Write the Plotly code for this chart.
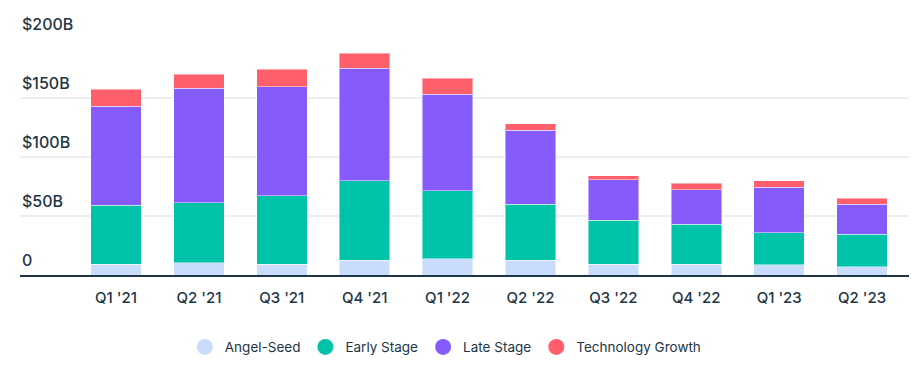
import plotly.graph_objects as go

quarters = ["Q1 '21", "Q2 '21", "Q3 '21", "Q4 '21", "Q1 '22", "Q2 '22", "Q3 '22", "Q4 '22", "Q1 '23", "Q2 '23"]
angel_seed = [9.3, 10.5, 9.3, 12.7, 13.9, 12.7, 9.3, 9.3, 8.5, 7.1]
early_stage = [49.8, 50.6, 58.0, 67.1, 57.4, 47.3, 37.1, 33.7, 27.1, 27.4]
late_stage = [83.8, 97.3, 92.2, 95.6, 82.0, 62.8, 34.5, 29.4, 38.8, 25.5]
tech_growth = [14.7, 11.9, 15.0, 12.7, 13.6, 5.3, 3.4, 5.4, 5.4, 5.1]

y_tick_vals = [0, 50, 100, 150, 200]
y_tick_text = ["0", "$50B", "$100B", "$150B", "$200B"]

series = [
    ("Angel-Seed", angel_seed, "#cadcfc"),
    ("Early Stage", early_stage, "#00c2a8"),
    ("Late Stage", late_stage, "#855bfb"),
    ("Technology Growth", tech_growth, "#ff5f6b"),
]

TEXT = "#1d3546"
FONT = "Inter"

fig = go.Figure()
for name, vals, color in series:
    fig.add_trace(go.Bar(
        x=quarters, y=vals, name=name, showlegend=False,
        marker=dict(color=color, line=dict(color="rgba(255,255,255,0.45)", width=1)),
    ))
for name, vals, color in series:
    fig.add_trace(go.Scatter(
        x=[None], y=[None], mode="markers", name=name,
        marker=dict(color=color, size=18, symbol="circle"),
    ))

for v, t in zip(y_tick_vals, y_tick_text):
    fig.add_annotation(
        x=0, xref="paper", xanchor="left", y=v, yref="y", yanchor="bottom",
        yshift=3, text=t, showarrow=False,
        font=dict(family=FONT, size=16, color=TEXT, weight=500),
    )

fig.update_layout(
    width=923, height=367,
    margin=dict(l=20, r=14, t=39, b=92),
    paper_bgcolor="white", plot_bgcolor="white",
    barmode="stack", bargap=0.39,
    font=dict(family=FONT, size=15, color=TEXT),
    showlegend=True,
    legend=dict(
        orientation="h", xref="container", yref="container",
        x=0.483, xanchor="center", y=0.054, yanchor="middle",
        font=dict(family=FONT, size=13.5, color=TEXT),
        traceorder="normal", itemwidth=30,
    ),
    xaxis=dict(
        type="category", range=[-1.158, 9.566],
        showgrid=False, showline=True, linecolor=TEXT, linewidth=2,
        ticks="", ticklabelstandoff=8,
        tickfont=dict(family=FONT, size=15, color=TEXT, weight=500),
        zeroline=False,
    ),
    yaxis=dict(
        range=[0, 200], tickvals=y_tick_vals, showticklabels=False,
        showgrid=True, gridcolor="#eceef1", gridwidth=1.5,
        zeroline=False, showline=False,
    ),
)

fig.write_html("out.html", config={"displayModeBar": False},
               post_script="document.body.style.margin='0px';")
